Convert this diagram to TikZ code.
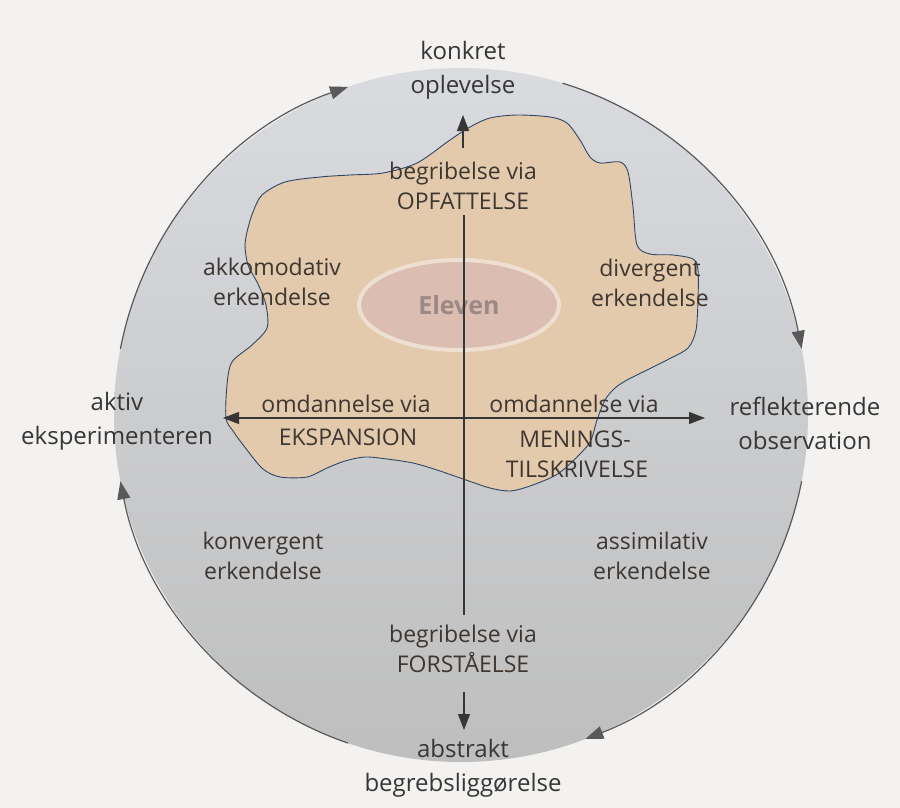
\documentclass[tikz,border=0pt]{standalone}
\usepackage{fontspec}
\setmainfont{Open Sans}
\usetikzlibrary{arrows.meta,shapes.geometric}

\definecolor{paper}{HTML}{F3F2F0}
\definecolor{disktop}{HTML}{D9DBDF}
\definecolor{diskbottom}{HTML}{BEBEBE}
\definecolor{blobfill}{HTML}{E3CAAD}
\definecolor{blobline}{HTML}{2E4768}
\definecolor{eggfill}{HTML}{DBBDB2}
\definecolor{egghalo}{HTML}{EEDFD2}
\definecolor{eggtext}{HTML}{9C8884}
\definecolor{labeltext}{HTML}{363636}
\definecolor{innertext}{HTML}{3E3631}
\definecolor{ringline}{HTML}{595959}
\definecolor{axisline}{HTML}{363636}

\begin{document}
\begin{tikzpicture}[x=1pt,y=1pt,
  >={Triangle[length=16pt,width=12pt]},
  label/.style={align=center,text=labeltext,inner sep=0pt,font=\fontsize{24}{34}\selectfont},
  inner/.style={align=center,text=innertext,inner sep=0pt,font=\fontsize{23}{30}\selectfont},
  cyc/.style={-{Triangle[length=18pt,width=13pt]},draw=ringline,line width=1.2pt},
  axis/.style={draw=axisline,line width=1.1pt}]

\useasboundingbox[fill=paper] (0,0) rectangle (900,-808);

\coordinate (c) at (461,-415);

%grey disk
\shade[top color=disktop,bottom color=diskbottom] (c) circle[radius=347pt];

%the pupil's field
\filldraw[fill=blobfill,draw=blobline,line width=0.9pt] plot[smooth cycle,tension=0.5] coordinates {
  (262,-195) (285,-182) (320,-177) (350,-175) (383,-173) (417,-163) (450,-140)
  (470,-127) (490,-118) (517,-115) (550,-117) (567,-123) (580,-140) (590,-157)
  (600,-163) (620,-162) (628,-172) (633,-207) (637,-245) (650,-254) (673,-255)
  (693,-259) (698,-270) (698,-300) (696,-330) (688,-348) (667,-360) (645,-371)
  (627,-380) (615,-388) (605,-400) (597,-420) (590,-442) (574,-460) (556,-475)
  (530,-486) (510,-491) (490,-488) (466,-480) (437,-470) (413,-463) (387,-459)
  (365,-457) (345,-461) (327,-468) (307,-477) (280,-477) (263,-469) (247,-450)
  (233,-431) (226,-418) (227,-385) (232,-362) (252,-345) (267,-328) (266,-305)
  (258,-284) (248,-265) (245,-245) (248,-228) (253,-212)};

%centre
\node[ellipse,minimum width=200pt,minimum height=90pt,fill=eggfill,draw=egghalo,
  line width=4pt,text=eggtext,font=\bfseries\fontsize{25}{30}\selectfont] (eleven) at (459,-305) {Eleven};

%axes
\coordinate (vtop) at (464,-215);
\coordinate (vbot) at (464,-615);
\coordinate (hl) at (223,-418);
\coordinate (hr) at (705,-418);
\coordinate (upfoot) at (463,-148);
\coordinate (uptip) at (463,-115);
\coordinate (downfoot) at (464,-692);
\coordinate (downtip) at (464,-730);
\draw[axis] (vtop) -- (vbot);
\draw[axis,<->] (hl) -- (hr);
\draw[axis,->] (upfoot) -- (uptip);
\draw[axis,->] (downfoot) -- (downtip);

%cycle round the circle
\draw[cyc] (c) ++(169:347pt) arc[start angle=169,end angle=109,radius=347pt];
\draw[cyc] (c) ++(73:347pt) arc[start angle=73,end angle=11,radius=347pt];
\draw[cyc] (c) ++(-11:347pt) arc[start angle=-11,end angle=-69,radius=347pt];
\draw[cyc] (c) ++(-109:347pt) arc[start angle=-109,end angle=-169,radius=347pt];

%outer labels
\node[label] (konkret) at (463,-70) {konkret\\oplevelse};
\node[label] (abstrakt) at (463,-768) {abstrakt\\begrebsliggørelse};
\node[label] (aktiv) at (117,-421) {aktiv\\eksperimenteren};
\node[label] (reflekt) at (805,-423) {reflekterende\\observation};

%inner labels
\node[inner] (opfat) at (463,-186) {begribelse via\\OPFATTELSE};
\node[inner] (forst) at (463,-649) {begribelse via\\FORSTÅELSE};
\node[inner] (akkom) at (272,-282) {akkomodativ\\erkendelse};
\node[inner] (diverg) at (650,-283) {divergent\\erkendelse};
\node[inner] (konverg) at (263,-556) {konvergent\\erkendelse};
\node[inner] (assim) at (652,-556) {assimilativ\\erkendelse};
\node[inner,anchor=base] (omdleft) at (346,-412) {omdannelse via};
\node[inner,anchor=base] (ekspan) at (348,-445) {EKSPANSION};
\node[inner,anchor=base] (omdright) at (574,-412) {omdannelse via};
\node[inner,anchor=base] (menings) at (575,-447) {MENINGS-};
\node[inner,anchor=base] (tilskr) at (577,-477) {TILSKRIVELSE};

\end{tikzpicture}
\end{document}
